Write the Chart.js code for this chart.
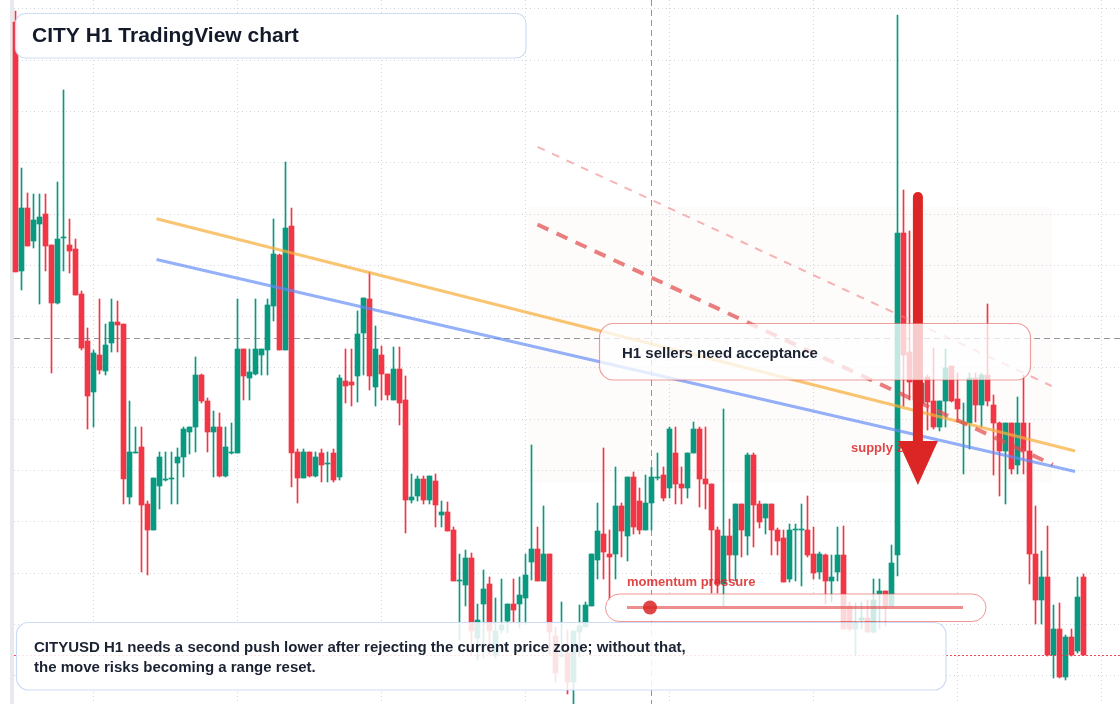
<!DOCTYPE html>
<html>
<head>
<meta charset="utf-8">
<title>CITY H1 TradingView chart</title>
<script src="https://cdn.jsdelivr.net/npm/chart.js@4.4.1/dist/chart.umd.min.js"></script>
<style>
  html, body { margin: 0; padding: 0; background: #ffffff; }
  #wrap { width: 1120px; height: 704px; position: relative; }
</style>
</head>
<body>
<div id="wrap"><canvas id="priceChart" width="1120" height="704"></canvas></div>
<script>
// H1 candles, oldest first
const opens = [
  77.8, 52.9, 59.2, 55.9, 57.6, 58.6, 55.5, 49.7, 56.2, 55.5,
  55.1, 50.6, 45.9, 40.8, 44.5, 42.9, 45.7, 47.8, 47.6, 30.3,
  34.7, 35.3, 29.6, 27.0, 31.4, 32.0, 32.1, 33.7, 34.3, 36.8,
  37.3, 42.5, 39.9, 36.8, 37.3, 32.4, 34.7, 34.7, 45.1, 42.2,
  42.6, 44.5, 45.0, 49.4, 54.5, 45.0, 57.4, 34.8, 32.2, 34.8,
  32.4, 34.7, 33.6, 34.7, 32.3, 41.9, 41.8, 42.4, 46.7, 50.1,
  41.3, 44.5, 42.6, 40.0, 43.1, 40.0, 30.0, 30.4, 32.1, 30.0,
  31.9, 28.5, 28.8, 27.0, 21.9, 21.5, 24.2, 16.2, 19.6, 21.6,
  14.5, 17.0, 17.9, 19.6, 19.6, 20.2, 23.8, 25.1, 21.9, 24.6,
  16.4, 14.4, 14.7, 11.8, 16.8, 17.3, 19.4, 24.0, 26.6, 24.6,
  24.6, 29.4, 26.4, 32.3, 29.9, 27.0, 29.7, 32.2, 32.5, 31.2,
  34.7, 31.6, 31.2, 34.7, 37.1, 32.1, 31.6, 27.0, 21.6, 26.4,
  24.5, 29.6, 26.4, 34.5, 29.6, 28.2, 29.6, 27.0, 26.2, 22.1,
  27.0, 27.0, 27.0, 24.6, 22.8, 24.5, 21.9, 22.8, 24.5, 19.4,
  17.1, 18.0, 18.2, 16.8, 20.6, 20.9, 19.4, 24.5, 56.7, 44.8,
  42.2, 39.6, 42.3, 39.9, 37.3, 39.9, 43.4, 40.1, 37.7, 37.7,
  42.2, 39.5, 42.5, 39.5, 37.7, 34.9, 37.7, 33.5, 37.7, 34.9,
  24.6, 20.0, 22.3, 14.5, 17.1, 12.3, 16.3, 14.9, 22.3
];
const closes = [
  52.8, 59.2, 55.4, 58.0, 58.3, 55.4, 49.7, 56.1, 56.3, 54.9,
  50.5, 45.2, 40.4, 44.7, 43.0, 45.5, 47.8, 47.5, 32.1, 34.8,
  34.8, 29.5, 27.0, 32.2, 34.3, 32.1, 32.2, 34.3, 37.1, 37.3,
  42.5, 39.9, 36.8, 37.3, 32.4, 35.3, 34.8, 45.1, 42.4, 42.8,
  45.1, 45.1, 49.5, 54.6, 45.0, 57.2, 34.7, 32.2, 34.8, 32.4,
  34.3, 33.5, 33.7, 32.0, 42.2, 41.4, 41.5, 46.6, 50.2, 42.4,
  45.1, 42.6, 40.5, 43.1, 39.7, 30.0, 30.3, 32.1, 30.0, 32.4,
  29.5, 28.8, 26.9, 21.9, 22.0, 24.2, 16.9, 18.0, 21.1, 16.9,
  16.9, 17.5, 19.6, 19.0, 20.5, 22.5, 25.1, 21.9, 24.6, 16.8,
  12.7, 14.5, 11.8, 16.9, 17.4, 19.5, 24.6, 26.9, 24.8, 24.3,
  29.4, 26.9, 32.3, 27.3, 27.0, 29.7, 32.3, 32.3, 30.2, 37.1,
  31.6, 31.2, 34.7, 37.1, 32.1, 31.6, 27.0, 21.6, 26.4, 24.5,
  29.6, 27.0, 34.5, 29.5, 27.8, 29.6, 27.0, 25.9, 21.8, 27.0,
  27.1, 27.1, 24.5, 22.7, 24.6, 21.9, 22.3, 24.5, 17.1, 17.1,
  17.8, 18.2, 16.8, 20.0, 20.9, 19.4, 23.7, 56.7, 44.5, 41.8,
  40.0, 41.7, 39.8, 37.3, 39.9, 43.2, 39.9, 39.1, 37.8, 42.2,
  39.5, 42.5, 39.9, 37.7, 34.9, 37.7, 33.1, 37.7, 34.9, 24.6,
  20.0, 22.3, 14.5, 17.1, 12.3, 16.3, 14.5, 20.3, 14.5
];
const highs = [
  78.9, 63.2, 60.7, 60.6, 60.6, 60.6, 55.5, 61.8, 71.0, 58.1,
  56.1, 50.9, 47.2, 45.0, 50.1, 47.6, 50.1, 49.9, 47.6, 39.9,
  37.3, 37.3, 29.9, 32.2, 34.8, 34.8, 34.8, 35.2, 37.3, 37.3,
  44.3, 42.6, 40.2, 38.9, 38.7, 37.3, 37.7, 50.1, 45.1, 45.1,
  50.1, 45.1, 50.1, 58.1, 54.6, 63.8, 59.2, 35.1, 35.1, 34.8,
  34.8, 35.1, 34.8, 35.1, 42.5, 45.1, 45.1, 48.9, 50.2, 52.8,
  47.4, 45.4, 42.6, 45.3, 45.3, 42.4, 32.6, 32.4, 32.4, 32.4,
  32.6, 29.9, 29.8, 27.3, 24.6, 25.0, 24.7, 19.6, 23.0, 22.3,
  20.2, 22.1, 19.6, 22.1, 22.3, 24.6, 35.5, 27.3, 29.4, 24.6,
  17.3, 19.8, 17.0, 16.9, 19.5, 19.8, 24.6, 29.7, 35.2, 27.0,
  33.3, 29.7, 32.3, 32.8, 31.2, 32.5, 33.3, 34.7, 33.3, 37.3,
  37.3, 33.3, 34.7, 37.8, 37.3, 37.3, 31.6, 27.3, 39.1, 28.1,
  29.6, 29.6, 34.7, 34.7, 29.9, 29.6, 29.6, 27.2, 27.0, 27.6,
  27.6, 29.6, 30.4, 27.3, 24.8, 24.6, 24.5, 27.3, 27.4, 19.8,
  19.7, 19.8, 20.0, 22.1, 22.1, 20.9, 25.5, 78.5, 61.0, 56.9,
  44.8, 44.5, 42.5, 45.2, 39.9, 45.1, 43.4, 42.7, 39.7, 42.7,
  42.7, 42.7, 49.6, 40.5, 37.8, 37.7, 37.7, 40.3, 42.5, 37.7,
  29.4, 24.9, 27.4, 19.5, 19.7, 16.5, 17.1, 22.3, 22.6
];
const lows = [
  52.8, 51.0, 55.4, 55.2, 49.6, 52.9, 42.7, 49.6, 52.9, 52.7,
  50.5, 45.0, 37.1, 37.3, 42.6, 42.5, 44.8, 44.8, 29.6, 29.6,
  34.7, 22.8, 22.5, 27.0, 29.1, 31.9, 29.6, 29.6, 32.3, 34.6,
  34.8, 39.7, 34.8, 32.3, 32.3, 32.3, 34.6, 34.7, 40.0, 40.0,
  42.5, 42.5, 42.5, 47.9, 45.0, 45.0, 31.3, 29.7, 32.2, 32.3,
  32.3, 31.8, 31.8, 31.8, 32.0, 39.7, 39.4, 39.8, 42.5, 41.0,
  39.4, 40.0, 40.0, 40.0, 37.5, 26.7, 29.7, 29.9, 29.6, 29.6,
  27.3, 27.3, 26.9, 21.9, 16.0, 19.4, 14.5, 14.0, 14.2, 14.5,
  14.2, 16.7, 16.7, 17.8, 17.2, 17.6, 22.0, 21.9, 21.9, 14.5,
  11.8, 14.3, 10.6, 9.6, 14.3, 17.3, 19.4, 22.1, 22.1, 20.0,
  22.1, 24.3, 23.9, 26.6, 26.6, 27.0, 27.0, 32.0, 29.9, 30.2,
  29.6, 29.6, 30.2, 34.7, 29.3, 29.1, 20.7, 20.7, 19.4, 21.9,
  21.9, 24.3, 24.5, 25.3, 27.2, 26.6, 24.5, 24.5, 21.8, 21.8,
  21.9, 21.4, 24.3, 22.1, 22.1, 19.6, 19.8, 21.9, 17.1, 16.9,
  14.4, 17.1, 16.7, 16.7, 17.1, 17.4, 19.4, 22.4, 39.4, 40.0,
  39.0, 38.0, 37.0, 37.1, 36.9, 37.3, 39.8, 37.8, 32.6, 35.1,
  37.8, 37.3, 39.4, 32.5, 30.4, 29.6, 32.6, 32.6, 32.6, 21.6,
  17.6, 17.6, 14.4, 12.2, 12.2, 12.0, 14.4, 14.7, 14.5
];

// grid levels (price) and grid columns (bar index)
const gridPrices = [79.17, 74.04, 68.91, 63.78, 58.65, 53.52, 48.39, 43.26, 38.13, 33.0, 27.87, 22.74, 17.61, 12.48];
const gridBars = [12.9, 36.9, 60.9, 84.9, 108.9, 132.9, 156.9, 180.9];

// drawings, [bar index, price]
const trendUpper = [[23.5, 58.13], [176.6, 34.9]];
const trendLower = [[23.5, 54.05], [176.6, 32.85]];
const channelTop = [[87.0, 65.32], [172.7, 41.4]];
const channelMid = [[87.0, 57.55], [172.9, 33.53]];
const supplyZone = [[85.4, 59.35], [172.75, 31.73]];
const crosshair = [106, 46.2];
const arrowPath = [[150.4, 60.3], [150.4, 35.9], [150.4, 31.5]];
const zoneLabelAt = [139.25, 35.2];

const titleText = 'CITY H1 TradingView chart';
const noteText = 'H1 sellers need acceptance';
const zoneText = 'supply zone';
const momentumText = 'momentum pressure';
const footLines = [
  'CITYUSD H1 needs a second push lower after rejecting the current price zone; without that,',
  'the move risks becoming a range reset.'
];

const up = '#089981';
const down = '#f23645';
const face = '"Liberation Sans", Arial, sans-serif';
const candleColors = opens.map((o, i) => closes[i] >= o ? up : down);

function line(ctx, x1, y1, x2, y2) {
  ctx.beginPath();
  ctx.moveTo(x1, y1);
  ctx.lineTo(x2, y2);
  ctx.stroke();
}

function roundBox(ctx, x, y, w, h, r, fill, stroke, lw) {
  ctx.beginPath();
  ctx.moveTo(x + r, y);
  ctx.arcTo(x + w, y, x + w, y + h, r);
  ctx.arcTo(x + w, y + h, x, y + h, r);
  ctx.arcTo(x, y + h, x, y, r);
  ctx.arcTo(x, y, x + w, y, r);
  ctx.closePath();
  ctx.fillStyle = fill;
  ctx.fill();
  ctx.lineWidth = lw;
  ctx.strokeStyle = stroke;
  ctx.stroke();
}

const overlay = {
  id: 'overlay',
  beforeDatasetsDraw(chart) {
    const { ctx, chartArea: a, scales: { x, y } } = chart;
    ctx.save();

    // supply zone shading
    const zx1 = x.getPixelForValue(supplyZone[0][0]);
    const zx2 = x.getPixelForValue(supplyZone[1][0]);
    const zy1 = y.getPixelForValue(supplyZone[0][1]);
    const zy2 = y.getPixelForValue(supplyZone[1][1]);
    ctx.fillStyle = 'rgba(240, 170, 140, 0.035)';
    ctx.fillRect(zx1, zy1, zx2 - zx1, zy2 - zy1);

    // dotted grid
    ctx.strokeStyle = '#d3d6de';
    ctx.lineWidth = 1;
    ctx.setLineDash([1, 3]);
    gridPrices.forEach(p => {
      const py = Math.round(y.getPixelForValue(p)) + 0.5;
      line(ctx, 14, py, a.right, py);
    });
    gridBars.forEach(b => {
      const px = Math.round(x.getPixelForValue(b)) + 0.5;
      line(ctx, px, a.top, px, a.bottom);
    });

    // left edge strip
    ctx.setLineDash([]);
    ctx.fillStyle = '#e8e9ec';
    ctx.fillRect(10, a.top, 4, a.bottom - a.top);

    // crosshair
    ctx.strokeStyle = 'rgba(120, 123, 134, 0.8)';
    ctx.setLineDash([6, 4]);
    const cx = Math.round(x.getPixelForValue(crosshair[0])) + 0.5;
    const cy = Math.round(y.getPixelForValue(crosshair[1])) + 0.5;
    line(ctx, 14, cy, a.right, cy);
    line(ctx, cx, a.top, cx, a.bottom);
    ctx.restore();
  },
  afterDatasetsDraw(chart) {
    const { ctx, chartArea: a, scales: { x, y } } = chart;
    const seg = (pts, color, width, dash) => {
      ctx.strokeStyle = color;
      ctx.lineWidth = width;
      ctx.setLineDash(dash);
      line(ctx, x.getPixelForValue(pts[0][0]), y.getPixelForValue(pts[0][1]),
        x.getPixelForValue(pts[1][0]), y.getPixelForValue(pts[1][1]));
    };
    ctx.save();

    // trend lines
    seg(trendUpper, 'rgba(247, 174, 60, 0.72)', 3, []);
    seg(trendLower, 'rgba(98, 138, 245, 0.68)', 3, []);
    seg(channelTop, 'rgba(238, 120, 120, 0.55)', 2, [8, 8]);
    seg(channelMid, 'rgba(226, 78, 78, 0.72)', 4, [12, 9]);

    // last price line
    const lastY = Math.round(y.getPixelForValue(closes[closes.length - 1])) + 0.5;
    ctx.strokeStyle = 'rgba(242, 54, 69, 0.9)';
    ctx.lineWidth = 1;
    ctx.setLineDash([2, 2]);
    line(ctx, 14, lastY, a.right, lastY);
    ctx.setLineDash([]);

    // supply zone label
    ctx.font = 'bold 13px ' + face;
    ctx.textBaseline = 'middle';
    ctx.fillStyle = 'rgba(220, 38, 38, 0.85)';
    ctx.fillText(zoneText, x.getPixelForValue(zoneLabelAt[0]), y.getPixelForValue(zoneLabelAt[1]));

    // down arrow
    const ax = x.getPixelForValue(arrowPath[0][0]);
    const aTop = y.getPixelForValue(arrowPath[0][1]);
    const aBase = y.getPixelForValue(arrowPath[1][1]);
    const aTip = y.getPixelForValue(arrowPath[2][1]);
    ctx.strokeStyle = '#dc2626';
    ctx.lineWidth = 10;
    ctx.lineCap = 'round';
    line(ctx, ax, aTop, ax, aBase);
    ctx.lineCap = 'butt';
    ctx.fillStyle = '#dc2626';
    ctx.beginPath();
    ctx.moveTo(ax - 20, aBase);
    ctx.lineTo(ax + 20, aBase);
    ctx.lineTo(ax, aTip);
    ctx.closePath();
    ctx.fill();

    // momentum pill
    ctx.font = 'bold 13px ' + face;
    ctx.fillStyle = 'rgba(220, 38, 38, 0.85)';
    ctx.fillText(momentumText, 627, 582.5);
    roundBox(ctx, 605.5, 594, 380.5, 27.5, 13.75, 'rgba(255, 255, 255, 0.8)', 'rgba(228, 80, 80, 0.6)', 1);
    ctx.strokeStyle = 'rgba(228, 80, 80, 0.65)';
    ctx.lineWidth = 3;
    line(ctx, 627, 607.5, 963, 607.5);
    ctx.fillStyle = 'rgba(220, 38, 38, 0.85)';
    ctx.beginPath();
    ctx.arc(650, 607.5, 7, 0, Math.PI * 2);
    ctx.fill();

    // sellers note
    roundBox(ctx, 599.5, 323.5, 431, 56.5, 14, 'rgba(255, 255, 255, 0.76)', 'rgba(228, 80, 80, 0.55)', 1.2);
    ctx.font = 'bold 15px ' + face;
    ctx.fillStyle = '#1b2232';
    ctx.fillText(noteText, 622, 353.5);

    // footer note
    roundBox(ctx, 16.5, 622.5, 929.5, 67.5, 12, 'rgba(255, 255, 255, 0.86)', 'rgba(200, 216, 244, 0.9)', 1.2);
    ctx.fillStyle = '#1b2232';
    ctx.fillText(footLines[0], 34, 648);
    ctx.fillText(footLines[1], 34, 667.5);

    // title
    roundBox(ctx, 15.5, 13.5, 510.5, 44.5, 10, 'rgba(255, 255, 255, 0.95)', 'rgba(200, 216, 244, 0.9)', 1.2);
    ctx.font = 'bold 21px ' + face;
    ctx.fillStyle = '#131a2a';
    ctx.fillText(titleText, 32, 36.5);

    ctx.restore();
  }
};

const chart = new Chart(document.getElementById('priceChart'), {
  type: 'bar',
  data: {
    datasets: [
      {
        label: 'wick',
        data: lows.map((l, i) => ({ x: i, y: [l, highs[i]] })),
        backgroundColor: candleColors,
        barThickness: 1,
        grouped: false,
        borderWidth: 0,
        order: 2
      },
      {
        label: 'body',
        data: opens.map((o, i) => ({ x: i, y: [o, closes[i]] })),
        backgroundColor: candleColors,
        barThickness: 5,
        minBarLength: 1,
        grouped: false,
        borderWidth: 0,
        order: 1
      }
    ]
  },
  options: {
    responsive: false,
    animation: false,
    devicePixelRatio: 1,
    layout: { padding: 0 },
    scales: {
      x: { type: 'linear', display: false, offset: false, min: -15.5 / 6, max: (1120 - 15.5) / 6 },
      y: { type: 'linear', display: false, min: 9.6, max: 80 }
    },
    plugins: {
      legend: { display: false },
      tooltip: { enabled: false }
    }
  },
  plugins: [overlay]
});
</script>
</body>
</html>
